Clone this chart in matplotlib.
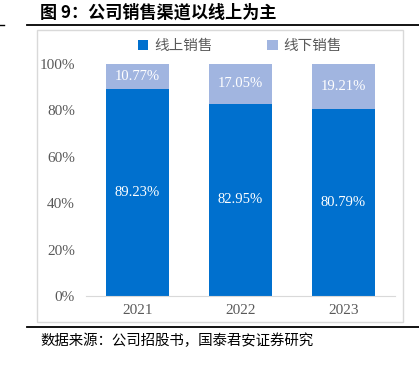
import matplotlib
matplotlib.use('Agg')
import matplotlib.pyplot as plt
from matplotlib.patches import Rectangle
from matplotlib.lines import Line2D

plt.rcParams['font.family'] = ['Noto Sans CJK SC', 'DejaVu Sans']

years = ['2021', '2022', '2023']
online = [89.23, 82.95, 80.79]
offline = [10.77, 17.05, 19.21]
series_names = ['线上销售', '线下销售']
c_online = '#0070CE'
c_offline = '#A1B5E0'
grey = '#595959'
num_font = 'Liberation Serif'

fig = plt.figure(figsize=(4.19, 3.66), dpi=100)

# 标题和上下分隔线
fig.text(40 / 419, 1 - 13 / 366, '图 9：公司销售渠道以线上为主', fontsize=12.3,
         fontweight='bold', ha='left', va='center', color='black')
fig.add_artist(Line2D([27 / 419, 1], [1 - 24.5 / 366] * 2, color='black', lw=1.3))
fig.add_artist(Line2D([0, 4 / 419], [1 - 24.5 / 366] * 2, color='black', lw=1.0))
fig.add_artist(Line2D([27 / 419, 1], [1 - 327 / 366] * 2, color='black', lw=1.3))
fig.text(40 / 419, 1 - 341 / 366, '数据来源：公司招股书，国泰君安证券研究', fontsize=10.4,
         ha='left', va='center', color='black')

# 图表外框
fig.add_artist(Rectangle((37 / 419, 1 - 322 / 366), 366 / 419, 292 / 366,
                         transform=fig.transFigure, fill=False,
                         edgecolor='#D9D9D9', lw=1.0))

ax = fig.add_axes([86 / 419, 1 - 296 / 366, 309 / 419, 232 / 366])
x = range(len(years))
on = [v / 100 for v in online]
off = [v / 100 for v in offline]
b1 = ax.bar(x, on, width=0.61, color=c_online, label=series_names[0])
b2 = ax.bar(x, off, width=0.61, bottom=on, color=c_offline, label=series_names[1])

for i in x:
    ax.text(i, on[i] / 2, f'{online[i]:.2f}%', ha='center', va='center',
            color='white', fontsize=10.5, family=num_font)
    ax.text(i, on[i] + off[i] / 2, f'{offline[i]:.2f}%', ha='center', va='center',
            color='white', fontsize=10.5, family=num_font)

ax.set_xlim(-0.5, 2.5)
ax.set_ylim(0, 1)
ax.set_yticks([0, 0.2, 0.4, 0.6, 0.8, 1.0])
ax.set_yticklabels(['0%', '20%', '40%', '60%', '80%', '100%'],
                   family=num_font, fontsize=11, color=grey)
ax.set_xticks(list(x))
ax.set_xticklabels(years, family=num_font, fontsize=11, color=grey)
ax.tick_params(length=0, pad=8)
ax.tick_params(axis='x', pad=6)
for s in ['top', 'right', 'left']:
    ax.spines[s].set_visible(False)
ax.spines['bottom'].set_color('#D9D9D9')

fig.legend(handles=[b1, b2], labels=series_names, loc='center',
           bbox_to_anchor=(240 / 419, 1 - 46 / 366), ncol=2, frameon=False,
           fontsize=10.5, handlelength=0.7, handleheight=0.7, columnspacing=3.75,
           handletextpad=0.4, labelcolor=grey)

fig.savefig('out.png', dpi=100)
